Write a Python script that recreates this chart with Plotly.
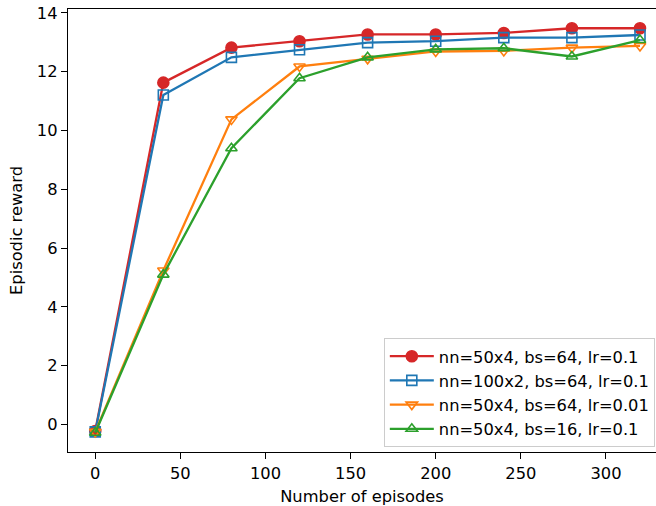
import plotly.graph_objects as go

episodes = [0, 40, 80, 120, 160, 200, 240, 280, 320]
r_50x4_bs64_lr01 = [-0.22, 11.63, 12.82, 13.04, 13.27, 13.27, 13.32, 13.48, 13.48]
r_100x2_bs64_lr01 = [-0.25, 11.21, 12.49, 12.75, 12.99, 13.04, 13.16, 13.16, 13.25]
r_50x4_bs64_lr001 = [-0.25, 5.24, 10.38, 12.18, 12.44, 12.69, 12.71, 12.82, 12.88]
r_50x4_bs16_lr01 = [-0.28, 5.10, 9.40, 11.78, 12.49, 12.76, 12.80, 12.52, 13.08]

labels = ["nn=50x4, bs=64, lr=0.1", "nn=100x2, bs=64, lr=0.1",
          "nn=50x4, bs=64, lr=0.01", "nn=50x4, bs=16, lr=0.1"]
series = [r_50x4_bs64_lr01, r_100x2_bs64_lr01, r_50x4_bs64_lr001, r_50x4_bs16_lr01]
colors = ["#d62728", "#1f77b4", "#ff7f0e", "#2ca02c"]
symbols = ["circle", "square-open", "triangle-down-open", "triangle-up-open"]
xticks = [0, 50, 100, 150, 200, 250, 300]
yticks = [0, 2, 4, 6, 8, 10, 12, 14]

fig = go.Figure()
for lab, ys, c, s in zip(labels, series, colors, symbols):
    fig.add_trace(go.Scatter(
        x=episodes, y=ys, name=lab, mode="lines+markers",
        line=dict(color=c, width=2.3),
        marker=dict(symbol=s, size=10 if s != "circle" else 11, color=c,
                    line=dict(color=c, width=1.6)),
        cliponaxis=False,
    ))

fs = 16.3
font = dict(family="DejaVu Sans", size=fs, color="black")
fig.update_layout(
    width=656, height=506,
    margin=dict(l=68, r=0, t=9, b=54),
    paper_bgcolor="white", plot_bgcolor="white",
    font=font,
    showlegend=True,
    legend=dict(x=0.998, y=0.011, xanchor="right", yanchor="bottom",
                bgcolor="rgba(255,255,255,0.8)", bordercolor="#cccccc",
                borderwidth=1, font=font,
                tracegroupgap=0, itemwidth=44),
    xaxis=dict(range=[-16, 329.4], tickvals=xticks, showgrid=False, zeroline=False,
               showline=True, linecolor="black", linewidth=1.3, mirror=True,
               ticks="outside", ticklen=6, tickwidth=1.3, tickcolor="black",
               tickfont=font,
               title=dict(text="Number of episodes", standoff=8, font=font)),
    yaxis=dict(range=[-0.935, 14.135], tickvals=yticks, showgrid=False, zeroline=False,
               showline=True, linecolor="black", linewidth=1.3,
               ticks="outside", ticklen=6, tickwidth=1.3, tickcolor="black",
               tickfont=font,
               title=dict(text="Episodic reward", standoff=10, font=font)),
)
fig.write_html("out.html")
